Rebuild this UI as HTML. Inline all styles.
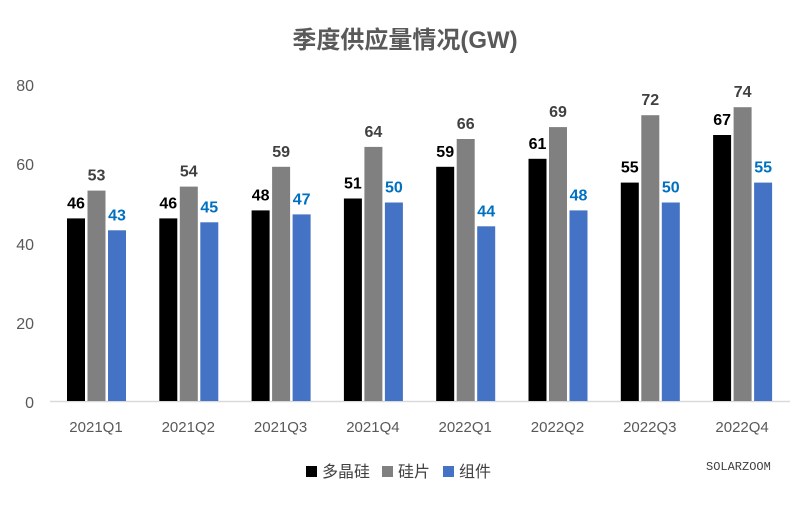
<!DOCTYPE html>
<html><head><meta charset="utf-8"><style>
body{margin:0;background:#fff}
svg text{font-family:"Liberation Sans","Noto Sans CJK SC",sans-serif}
</style></head><body>
<svg width="811" height="502" xmlns="http://www.w3.org/2000/svg">
<rect width="811" height="502" fill="#fff"/>
<text x="405" y="48" text-anchor="middle" font-size="24" font-weight="bold" fill="#595959">季度供应量情况(GW)</text>
<g font-size="16" fill="#595959" text-anchor="end">
<text x="34" y="408">0</text><text x="34" y="329">20</text><text x="34" y="250">40</text><text x="34" y="170">60</text><text x="34" y="91">80</text>
</g>
<line x1="50" y1="401.5" x2="790" y2="401.5" stroke="#d9d9d9" stroke-width="1.5"/>
<g>
<rect x="67" y="218.4" width="18" height="182.6" fill="#000"/>
<rect x="87.5" y="190.6" width="18" height="210.4" fill="#808080"/>
<rect x="108" y="230.3" width="18" height="170.7" fill="#4472c4"/>
<rect x="159.3" y="218.4" width="18" height="182.6" fill="#000"/>
<rect x="179.8" y="186.6" width="18" height="214.4" fill="#808080"/>
<rect x="200.3" y="222.3" width="18" height="178.7" fill="#4472c4"/>
<rect x="251.6" y="210.4" width="18" height="190.6" fill="#000"/>
<rect x="272.1" y="166.8" width="18" height="234.2" fill="#808080"/>
<rect x="292.6" y="214.4" width="18" height="186.6" fill="#4472c4"/>
<rect x="343.9" y="198.5" width="18" height="202.5" fill="#000"/>
<rect x="364.4" y="146.9" width="18" height="254.1" fill="#808080"/>
<rect x="384.9" y="202.5" width="18" height="198.5" fill="#4472c4"/>
<rect x="436.2" y="166.8" width="18" height="234.2" fill="#000"/>
<rect x="456.7" y="139" width="18" height="262" fill="#808080"/>
<rect x="477.2" y="226.3" width="18" height="174.7" fill="#4472c4"/>
<rect x="528.5" y="158.8" width="18" height="242.2" fill="#000"/>
<rect x="549" y="127.1" width="18" height="273.9" fill="#808080"/>
<rect x="569.5" y="210.4" width="18" height="190.6" fill="#4472c4"/>
<rect x="620.8" y="182.6" width="18" height="218.4" fill="#000"/>
<rect x="641.3" y="115.2" width="18" height="285.8" fill="#808080"/>
<rect x="661.8" y="202.5" width="18" height="198.5" fill="#4472c4"/>
<rect x="713.1" y="135" width="18" height="266" fill="#000"/>
<rect x="733.6" y="107.2" width="18" height="293.8" fill="#808080"/>
<rect x="754.1" y="182.6" width="18" height="218.4" fill="#4472c4"/>
</g>
<g font-size="16" font-weight="bold" text-anchor="middle">
<text x="76" y="208.4" fill="#000">46</text><text x="96.5" y="180.6" fill="#404040">53</text><text x="117" y="220.3" fill="#0070c0">43</text>
<text x="168.3" y="208.4" fill="#000">46</text><text x="188.8" y="176.6" fill="#404040">54</text><text x="209.3" y="212.3" fill="#0070c0">45</text>
<text x="260.6" y="200.4" fill="#000">48</text><text x="281.1" y="156.8" fill="#404040">59</text><text x="301.6" y="204.4" fill="#0070c0">47</text>
<text x="352.9" y="188.5" fill="#000">51</text><text x="373.4" y="136.9" fill="#404040">64</text><text x="393.9" y="192.5" fill="#0070c0">50</text>
<text x="445.2" y="156.8" fill="#000">59</text><text x="465.7" y="129" fill="#404040">66</text><text x="486.2" y="216.3" fill="#0070c0">44</text>
<text x="537.5" y="148.8" fill="#000">61</text><text x="558" y="117.1" fill="#404040">69</text><text x="578.5" y="200.4" fill="#0070c0">48</text>
<text x="629.8" y="172.6" fill="#000">55</text><text x="650.3" y="105.2" fill="#404040">72</text><text x="670.8" y="192.5" fill="#0070c0">50</text>
<text x="722.1" y="125" fill="#000">67</text><text x="742.6" y="97.2" fill="#404040">74</text><text x="763.1" y="172.6" fill="#0070c0">55</text>
</g>
<g font-size="15" fill="#595959" text-anchor="middle">
<text x="96" y="432">2021Q1</text><text x="188.3" y="432">2021Q2</text><text x="280.6" y="432">2021Q3</text><text x="372.9" y="432">2021Q4</text>
<text x="465.2" y="432">2022Q1</text><text x="557.5" y="432">2022Q2</text><text x="649.8" y="432">2022Q3</text><text x="742.1" y="432">2022Q4</text>
</g>
<g font-size="16">
<rect x="306" y="466" width="11" height="11" fill="#000"/><text x="322" y="477" fill="#404040">多晶硅</text>
<rect x="382" y="466" width="11" height="11" fill="#808080"/><text x="398" y="477" fill="#404040">硅片</text>
<rect x="443" y="466" width="11" height="11" fill="#4472c4"/><text x="459" y="477" fill="#404040">组件</text>
</g>
<text x="706" y="470" font-size="12" fill="#404040" style="font-family:'Liberation Mono',monospace">SOLARZOOM</text>
</svg>
</body></html>
